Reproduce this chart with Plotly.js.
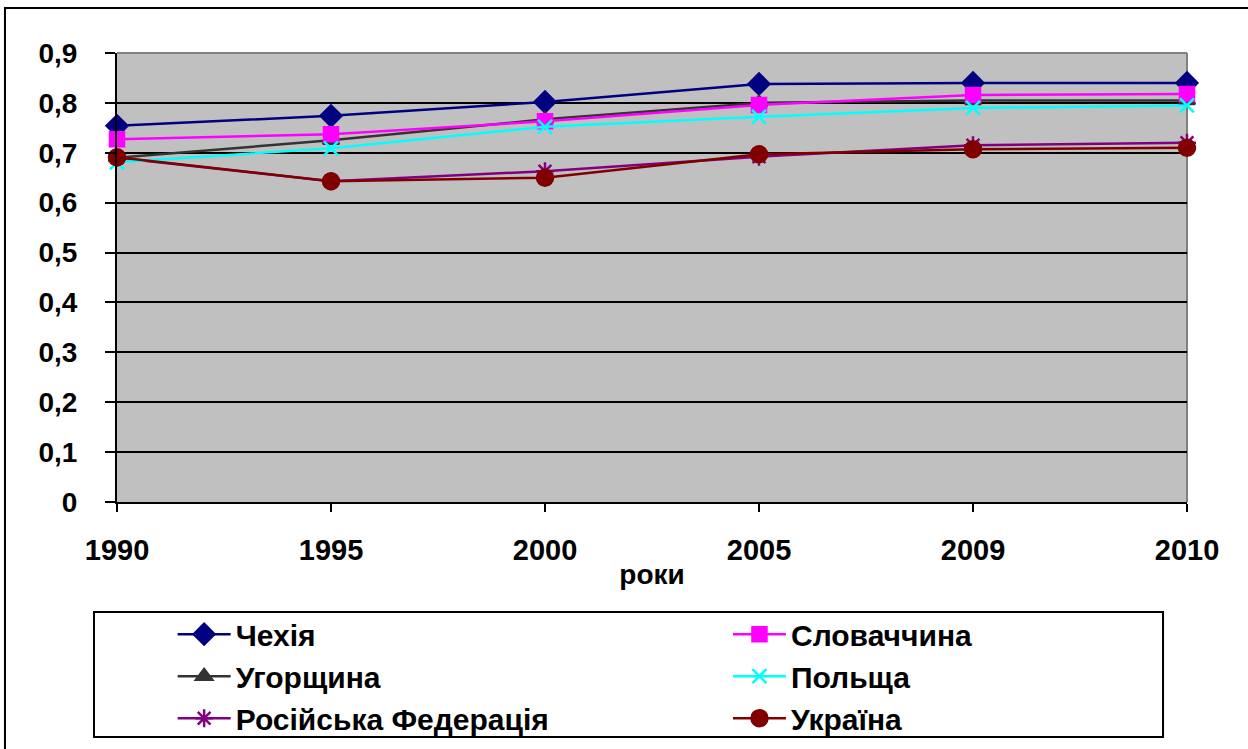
<!DOCTYPE html>
<html>
<head>
<meta charset="utf-8">
<script src="https://cdn.plot.ly/plotly-3.0.1.min.js"></script>
<style>html,body{margin:0;padding:0;background:#fff;}#chart{width:1248px;height:749px;}</style>
</head>
<body>
<div id="chart"></div>
<script>
const years = ['1990', '1995', '2000', '2005', '2009', '2010'];
const czech    = [0.754, 0.774, 0.802, 0.838, 0.840, 0.840];
const slovakia = [0.727, 0.737, 0.763, 0.796, 0.816, 0.818];
const hungary  = [0.690, 0.725, 0.767, 0.800, 0.805, 0.805];
const poland   = [0.681, 0.709, 0.752, 0.772, 0.790, 0.795];
const russia   = [0.690, 0.643, 0.663, 0.692, 0.715, 0.720];
const ukraine  = [0.691, 0.643, 0.650, 0.697, 0.707, 0.710];
const yTicks = [0, 0.1, 0.2, 0.3, 0.4, 0.5, 0.6, 0.7, 0.8, 0.9];

const xIdx = years.map((_, i) => i);
function tr(name, y, color, symbol, size, legend) {
  return {
    type: 'scatter', mode: 'lines+markers', name: name,
    x: xIdx, y: y, legend: legend, cliponaxis: false,
    line: {color: color, width: 2.5},
    marker: {color: color, symbol: symbol, size: size, line: {color: color, width: 2.5}}
  };
}
const data = [
  tr('Чехія', czech, '#000080', 'diamond', 16, 'legend'),
  tr('Угорщина', hungary, '#333333', 'triangle-up', 14, 'legend'),
  tr('Російська Федерація', russia, '#800080', 'asterisk-open', 15, 'legend'),
  tr('Словаччина', slovakia, '#FF00FF', 'square', 14, 'legend2'),
  tr('Польща', poland, '#00FFFF', 'x-thin-open', 14, 'legend2'),
  tr('Україна', ukraine, '#800000', 'circle', 16, 'legend2')
];

const F = 'Liberation Sans, Arial, sans-serif';
const legFont = {family: F, size: 30, color: '#000', weight: 'bold'};
const layout = {
  width: 1248, height: 749,
  margin: {l: 117, r: 61, t: 53, b: 247, autoexpand: false},
  paper_bgcolor: '#ffffff', plot_bgcolor: '#c0c0c0',
  separators: ', ',
  showlegend: true,
  font: {family: F, color: '#000'},
  xaxis: {
    range: [0, 5], tickmode: 'array', tickvals: xIdx, ticktext: years,
    showgrid: false, zeroline: false, automargin: false,
    showline: true, linecolor: '#000', linewidth: 2,
    ticks: 'outside', ticklen: 8, tickwidth: 2, tickcolor: '#000',
    tickfont: {family: F, size: 29, weight: 'bold'},
    ticklabelstandoff: 13,
    title: {text: 'роки', font: {family: F, size: 28, weight: 'bold'}, standoff: 0}
  },
  yaxis: {
    range: [0, 0.9], tickmode: 'array', tickvals: yTicks,
    showgrid: true, gridcolor: '#000', gridwidth: 2, zeroline: false, automargin: false,
    showline: true, linecolor: '#000', linewidth: 2,
    ticks: 'outside', ticklen: 10, tickwidth: 2, tickcolor: '#000',
    tickfont: {family: F, size: 28, weight: 'bold'},
    ticklabelstandoff: 22
  },
  legend: {
    x: 0.052, y: -0.2364, xanchor: 'left', yanchor: 'top',
    orientation: 'v', bgcolor: 'rgba(0,0,0,0)', borderwidth: 0,
    font: legFont, itemwidth: 53, tracegroupgap: 0
  },
  legend2: {
    x: 0.571, y: -0.2364, xanchor: 'left', yanchor: 'top',
    orientation: 'v', bgcolor: 'rgba(0,0,0,0)', borderwidth: 0,
    font: legFont, itemwidth: 53, tracegroupgap: 0
  },
  shapes: [
    {type: 'line', xref: 'paper', yref: 'paper', x0: 0, x1: 1, y0: 1, y1: 1,
     line: {color: '#808080', width: 2}, layer: 'between'},
    {type: 'line', xref: 'paper', yref: 'paper', x0: 1, x1: 1, y0: 0, y1: 1,
     line: {color: '#808080', width: 2}, layer: 'between'},
    {type: 'rect', xref: 'paper', yref: 'paper', x0: -0.0215, x1: 0.9776, y0: -0.5234, y1: -0.245,
     line: {color: '#000', width: 2}, fillcolor: 'rgba(0,0,0,0)'},
    {type: 'rect', xref: 'paper', yref: 'paper', x0: -0.1047, x1: 1.5, y0: -1, y1: 1.1002,
     line: {color: '#000', width: 2}, fillcolor: 'rgba(0,0,0,0)'}
  ]
};
Plotly.newPlot('chart', data, layout, {displayModeBar: false, staticPlot: true});
</script>
</body>
</html>
